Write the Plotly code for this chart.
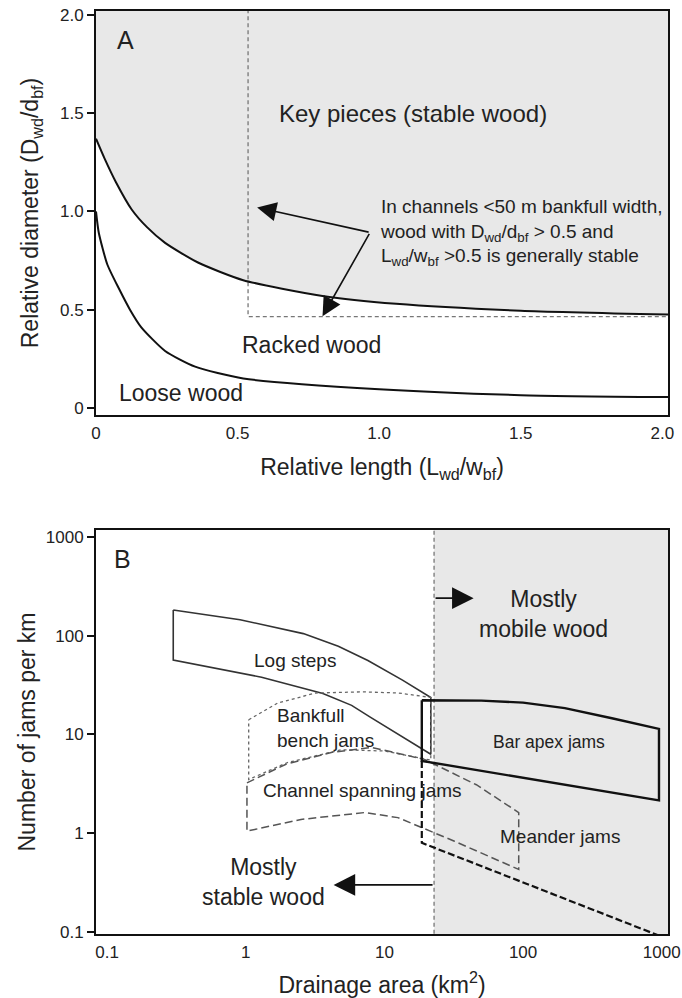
import plotly.graph_objects as go
import math

FONT = "Liberation Sans, Arial, sans-serif"
TXT = "#222222"

# ---------------- Panel A data ----------------
a_upper_x = [0, 0.03, 0.07, 0.126, 0.18, 0.244, 0.36, 0.52, 0.80, 1.06, 1.5, 2.02]
a_upper_y = [1.37, 1.27, 1.15, 1.01, 0.92, 0.84, 0.74, 0.65, 0.57, 0.53, 0.495, 0.475]
a_lower_x = [0, 0.01, 0.04, 0.08, 0.12, 0.16, 0.244, 0.35, 0.52, 1.0, 1.5, 2.02]
a_lower_y = [1.0, 0.89, 0.73, 0.61, 0.50, 0.41, 0.29, 0.21, 0.15, 0.095, 0.065, 0.055]
a_thresh_x = 0.537
a_thresh_y = 0.465
a_ticks = [0, 0.5, 1.0, 1.5, 2.0]
a_ticktext = ["0", "0.5", "1.0", "1.5", "2.0"]

# ---------------- Panel B data ----------------
logsteps_top_x = [0.30, 0.91, 2.6, 4.65, 7.6, 13.5, 21.6]
logsteps_top_y = [182, 145, 105, 78, 56, 35.5, 23.7]
logsteps_bot_x = [0.30, 1.30, 3.6, 5.8, 7.9, 21.6]
logsteps_bot_y = [56.6, 38, 26, 19.7, 15, 6.3]

bench_top_x = [1.05, 1.71, 3.2, 7.0, 12.6, 21.6]
bench_top_y = [14.1, 20.9, 26.3, 27.0, 26.3, 23.7]
bench_bot_x = [1.05, 2.0, 4.9, 10.0, 21.6]
bench_bot_y = [3.5, 5.2, 7.0, 6.8, 5.5]

span_top_x = [1.02, 1.95, 4.2, 8.1, 19.4, 46, 93]
span_top_y = [3.24, 5.0, 6.6, 7.4, 5.6, 3.1, 1.62]
span_bot_x = [1.02, 2.5, 7.2, 12.5, 32, 93]
span_bot_y = [1.05, 1.38, 1.62, 1.44, 0.83, 0.43]

barapex_top_x = [18.6, 50, 100, 200, 437, 955]
barapex_top_y = [22.2, 22.0, 21.0, 18.5, 14.6, 11.4]
barapex_bot_x = [18.6, 955]
barapex_bot_y = [5.4, 2.15]

meander_x = [18.6, 18.6, 955]
meander_y = [5.4, 0.80, 0.092]

mobile_threshold = 22.8
b_ticks = [0.1, 1, 10, 100, 1000]
b_ticktext = ["0.1", "1", "10", "100", "1000"]

fig = go.Figure()

# ---- Panel A traces ----
fig.add_trace(go.Scatter(
    x=a_upper_x + [2.1, 0], y=a_upper_y + [2.1, 2.1],
    fill="toself", fillcolor="#e8e8e8", line=dict(width=0),
    mode="lines", hoverinfo="skip", xaxis="x", yaxis="y", showlegend=False))
fig.add_trace(go.Scatter(
    x=[a_thresh_x, a_thresh_x, 2.1], y=[2.1, a_thresh_y, a_thresh_y],
    mode="lines", line=dict(color="#777777", width=1.3, dash="4px,3px"),
    xaxis="x", yaxis="y", showlegend=False))
fig.add_trace(go.Scatter(
    x=a_upper_x, y=a_upper_y, mode="lines", line=dict(color="#111111", width=2, shape="spline", smoothing=0.6),
    xaxis="x", yaxis="y", showlegend=False))
fig.add_trace(go.Scatter(
    x=a_lower_x, y=a_lower_y, mode="lines", line=dict(color="#111111", width=2, shape="spline", smoothing=0.6),
    xaxis="x", yaxis="y", showlegend=False))

# ---- Panel B traces ----
fig.add_trace(go.Scatter(
    x=[mobile_threshold, 2000, 2000, mobile_threshold], y=[0.05, 0.05, 2000, 2000],
    fill="toself", fillcolor="#e8e8e8", line=dict(width=0), mode="lines",
    hoverinfo="skip", xaxis="x2", yaxis="y2", showlegend=False))
fig.add_trace(go.Scatter(
    x=[mobile_threshold, mobile_threshold], y=[0.05, 2000], mode="lines",
    line=dict(color="#777777", width=1.3, dash="4px,3px"),
    xaxis="x2", yaxis="y2", showlegend=False))

def poly(top_x, top_y, bot_x, bot_y):
    xs = list(top_x) + list(reversed(bot_x)) + [top_x[0]]
    ys = list(top_y) + list(reversed(bot_y)) + [top_y[0]]
    return xs, ys

xs, ys = poly(logsteps_top_x, logsteps_top_y, logsteps_bot_x, logsteps_bot_y)
fig.add_trace(go.Scatter(x=xs, y=ys, mode="lines", line=dict(color="#333333", width=1.6),
                         xaxis="x2", yaxis="y2", showlegend=False))
xs, ys = poly(bench_top_x, bench_top_y, bench_bot_x, bench_bot_y)
fig.add_trace(go.Scatter(x=xs, y=ys, mode="lines", line=dict(color="#666666", width=1.3, dash="dot"),
                         xaxis="x2", yaxis="y2", showlegend=False))
xs, ys = poly(span_top_x, span_top_y, span_bot_x, span_bot_y)
fig.add_trace(go.Scatter(x=xs, y=ys, mode="lines", line=dict(color="#555555", width=1.5, dash="8px,4px"),
                         xaxis="x2", yaxis="y2", showlegend=False))
xs, ys = poly(barapex_top_x, barapex_top_y, barapex_bot_x, barapex_bot_y)
fig.add_trace(go.Scatter(x=xs, y=ys, mode="lines", line=dict(color="#111111", width=2.4),
                         xaxis="x2", yaxis="y2", showlegend=False))
fig.add_trace(go.Scatter(x=meander_x, y=meander_y, mode="lines", line=dict(color="#111111", width=2.2, dash="7px,3px"),
                         xaxis="x2", yaxis="y2", showlegend=False))

L = math.log10

ann = []
def txt(x, y, s, size, xref, yref, xanchor="center", align="center"):
    ann.append(dict(x=x, y=y, text=s, xref=xref, yref=yref, showarrow=False,
                    font=dict(family=FONT, size=size, color=TXT), xanchor=xanchor, align=align))

# Panel A labels
txt(0.105, 1.87, "A", 25, "x", "y")
txt(1.12, 1.50, "Key pieces (stable wood)", 24, "x", "y")
txt(0.76, 0.32, "Racked wood", 23, "x", "y")
txt(0.30, 0.076, "Loose wood", 23, "x", "y")
txt(0.995, 0.895,
    "In channels &lt;50 m bankfull width,<br>wood with D<sub>wd</sub>/d<sub>bf</sub> &gt; 0.5 and<br>"
    "L<sub>wd</sub>/w<sub>bf</sub> &gt;0.5 is generally stable",
    19, "x", "y", xanchor="left", align="left")

for hx, hy in [(0.569, 1.02), (0.80, 0.466)]:
    ann.append(dict(x=hx, y=hy, ax=0.968, ay=0.893, xref="x", yref="y", axref="x", ayref="y",
                    showarrow=True, arrowhead=2, arrowsize=2.4, arrowwidth=1.6, arrowcolor="#111111", text=""))

# Panel B labels
txt(L(0.13), L(600), "B", 25, "x2", "y2")
txt(L(141), L(165), "Mostly<br>mobile wood", 23, "x2", "y2")
txt(L(2.25), L(56), "Log steps", 19, "x2", "y2")
txt(L(1.62), L(11.5), "Bankfull<br>bench jams", 19, "x2", "y2", xanchor="left", align="left")
txt(L(155), L(8.3), "Bar apex jams", 17.5, "x2", "y2")
txt(L(7.0), L(2.7), "Channel spanning jams", 19, "x2", "y2")
txt(L(185), L(0.93), "Meander jams", 19, "x2", "y2")
txt(L(1.35), L(0.32), "Mostly<br>stable wood", 23, "x2", "y2")

ann.append(dict(x=L(44), y=L(240), ax=L(mobile_threshold), ay=L(240), xref="x2", yref="y2", axref="x2", ayref="y2",
                showarrow=True, arrowhead=2, arrowsize=2.4, arrowwidth=1.8, arrowcolor="#111111", text=""))
ann.append(dict(x=L(4.3), y=L(0.30), ax=L(mobile_threshold), ay=L(0.30), xref="x2", yref="y2", axref="x2", ayref="y2",
                showarrow=True, arrowhead=2, arrowsize=2.4, arrowwidth=1.8, arrowcolor="#111111", text=""))

axis_common = dict(showgrid=False, zeroline=False, showline=True, linecolor="#111111", linewidth=2,
                   mirror=True, automargin=False, tickfont=dict(family=FONT, size=17, color=TXT))
TF = dict(family=FONT, size=23, color=TXT)

fig.update_layout(
    width=682, height=998,
    margin=dict(l=96, r=14, t=11, b=64),
    paper_bgcolor="white", plot_bgcolor="white",
    showlegend=False,
    annotations=ann,
    xaxis=dict(domain=[0, 1], anchor="y", range=[0, 2.02], tickvals=a_ticks, ticktext=a_ticktext,
               ticks="outside", ticklen=2, tickcolor="rgba(0,0,0,0)",
               title=dict(text="Relative length (L<sub>wd</sub>/w<sub>bf</sub>)", font=TF, standoff=17), **axis_common),
    yaxis=dict(domain=[0.5623, 1], anchor="x", range=[-0.036, 2.02], tickvals=a_ticks, ticktext=a_ticktext,
               ticks="outside", ticklen=7, tickwidth=1.5, tickcolor="#111111",
               title=dict(text="Relative diameter (D<sub>wd</sub>/d<sub>bf</sub>)", font=TF, standoff=15), **axis_common),
    xaxis2=dict(domain=[0, 1], anchor="y2", type="log", range=[-1.08, 3.045], tickvals=b_ticks, ticktext=b_ticktext,
                ticks="outside", ticklen=2, tickcolor="rgba(0,0,0,0)",
                title=dict(text="Drainage area (km<sup>2</sup>)", font=TF, standoff=15), **axis_common),
    yaxis2=dict(domain=[0, 0.4377], anchor="x2", type="log", range=[-1.02, 3.07], tickvals=b_ticks, ticktext=b_ticktext,
                ticks="outside", ticklen=7, tickwidth=1.5, tickcolor="#111111",
                title=dict(text="Number of jams per km", font=TF, standoff=4), **axis_common),
)

fig.write_html("out.html", config={"displayModeBar": False},
               post_script="document.body.style.margin='0px';document.body.style.overflow='hidden';")
